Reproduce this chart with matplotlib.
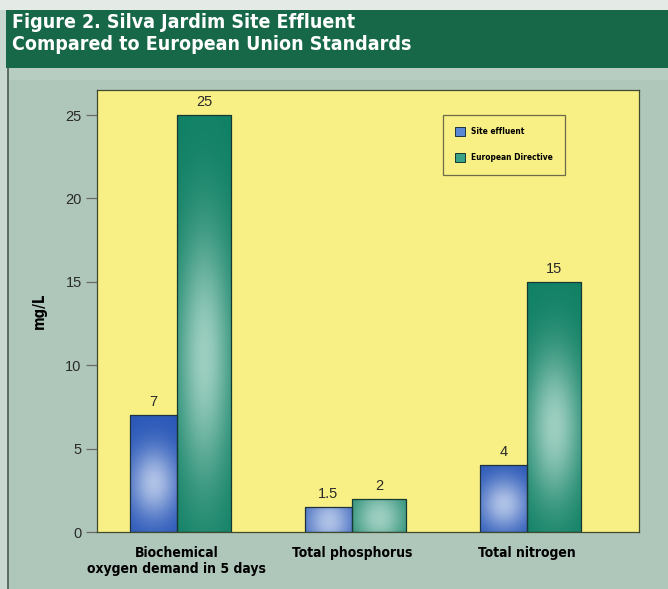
import numpy as np
import matplotlib
matplotlib.use("Agg")
import matplotlib.pyplot as plt
from matplotlib import font_manager
from matplotlib.patches import Patch, Rectangle
from matplotlib.colors import to_rgb

# ---- data ----
categories = ["Biochemical\noxygen demand in 5 days", "Total phosphorus", "Total nitrogen"]
site_effluent = [7, 1.5, 4]
eu_directive = [25, 2, 15]
series_names = ["Site effluent", "European Directive"]
value_labels_site = ["7", "1.5", "4"]
value_labels_eu = ["25", "2", "15"]
yticks = [0, 5, 10, 15, 20, 25]

title = "Figure 2. Silva Jardim Site Effluent\nCompared to European Union Standards"
ylabel = "mg/L"


def condensed_props(size, weight="bold"):
    """Pick a narrow sans face if one is installed, else plain DejaVu Sans."""
    names = {(f.name, f.stretch) for f in font_manager.fontManager.ttflist}
    if any(n == "Liberation Sans Narrow" for n, _ in names):
        return dict(family="Liberation Sans Narrow", fontsize=size, fontweight=weight)
    if ("DejaVu Sans", "condensed") in names:
        return dict(family="DejaVu Sans", fontstretch="condensed", fontsize=size, fontweight=weight)
    return dict(family="DejaVu Sans", fontsize=size * 0.9, fontweight=weight)


W, H = 668, 589
fig = plt.figure(figsize=(W / 100, H / 100), dpi=100)
fig.patch.set_facecolor("#afc6bb")

# page furniture: light margin, dark title band, left rule
fig.add_artist(Rectangle((0, 0), 8 / W, 1, transform=fig.transFigure,
                         facecolor="#c9d8d0", edgecolor="none", zorder=0))
fig.add_artist(Rectangle((0, 1 - 10 / H), 1, 10 / H, transform=fig.transFigure,
                         facecolor="#e4ebe7", edgecolor="none", zorder=0))
fig.add_artist(Rectangle((6 / W, 1 - 68 / H), 1, 58 / H, transform=fig.transFigure,
                         facecolor="#176848", edgecolor="none", zorder=1))
fig.add_artist(Rectangle((8 / W, 1 - 80 / H), 1, 12 / H, transform=fig.transFigure,
                         facecolor="#b8cdc2", edgecolor="none", zorder=0))
fig.add_artist(plt.Line2D([8 / W, 8 / W], [0, 1 - 68 / H], transform=fig.transFigure,
                          color="#4a5a52", lw=1.2, zorder=1))

fig.text(12 / W, 1 - 13 / H, title, color="white", va="top", ha="left",
         linespacing=1.18, zorder=2, **condensed_props(14))

ax = fig.add_axes([97 / W, 57 / H, 542 / W, 442 / H])
ax.set_facecolor("#f8ef85")
x = np.arange(len(categories))
w_site, w_eu = 0.27, 0.31
ax.set_xlim(-0.457, 2.64)
ax.set_ylim(0, 26.5)

bars_site = ax.bar(x - w_site / 2, site_effluent, w_site, facecolor="none",
                   edgecolor="#1d3340", linewidth=0.9, zorder=3)
bars_eu = ax.bar(x + w_eu / 2, eu_directive, w_eu, facecolor="none",
                 edgecolor="#163a33", linewidth=0.9, zorder=3)

fig.canvas.draw()


def shade_bar(patch, dark, light):
    """Fill a bar with a soft radial highlight, clipped to the bar outline."""
    bx, by = patch.get_x(), patch.get_y()
    bw, bh = patch.get_width(), patch.get_height()
    p0 = ax.transData.transform((bx, by))
    p1 = ax.transData.transform((bx + bw, by + bh))
    wpx, hpx = abs(p1[0] - p0[0]), abs(p1[1] - p0[1])
    nx, ny = max(int(wpx), 2), max(int(hpx), 2)
    u = (np.arange(nx) + 0.5) / nx - 0.5
    v = (np.arange(ny) + 0.5) / ny - 0.42
    U, V = np.meshgrid(u * wpx, v * hpx)
    sx = 0.5 * wpx
    sy = max(0.3 * hpx, 0.55 * wpx)
    f = np.exp(-(U / sx) ** 2 - (V / sy) ** 2) * 0.72
    d, l = np.array(to_rgb(dark)), np.array(to_rgb(light))
    img = d[None, None, :] * (1 - f[..., None]) + l[None, None, :] * f[..., None]
    im = ax.imshow(img, extent=(bx, bx + bw, by, by + bh), origin="lower",
                   aspect="auto", interpolation="bilinear", zorder=2)
    im.set_clip_path(patch)


for p in bars_site:
    shade_bar(p, "#2a58b8", "#e2eaf8")
for p in bars_eu:
    shade_bar(p, "#0f8064", "#d4ede4")
ax.set_xlim(-0.457, 2.64)
ax.set_ylim(0, 26.5)

num_font = dict(family="Liberation Sans", fontsize=10.5, color="#2a2a2a")
for p, lab in zip(bars_site, value_labels_site):
    ax.text(p.get_x() + p.get_width() / 2, p.get_height() + 0.35, lab,
            ha="center", va="bottom", **num_font)
for p, lab in zip(bars_eu, value_labels_eu):
    ax.text(p.get_x() + p.get_width() / 2, p.get_height() + 0.35, lab,
            ha="center", va="bottom", **num_font)

ax.set_yticks(yticks)
ax.set_yticklabels([str(t) for t in yticks], **num_font)
ax.tick_params(axis="y", direction="out", length=8, width=0.9, color="#6a6a6a", pad=3)
ax.set_xticks(x)
ax.set_xticklabels(categories, color="black", linespacing=1.15, **condensed_props(10))
ax.tick_params(axis="x", length=0, pad=10)

for s in ax.spines.values():
    s.set_color("#3f4a2e")
    s.set_linewidth(0.9)

ax.set_ylabel(ylabel, color="black", labelpad=13, **condensed_props(10.5))

legend_font = condensed_props(6.0)
handles = [Patch(facecolor="#5a86d6", edgecolor="#1d3340", linewidth=0.7),
           Patch(facecolor="#3aa387", edgecolor="#163a33", linewidth=0.7)]
leg = ax.legend(handles, series_names, loc="upper left",
                bbox_to_anchor=(0.638, 0.944), frameon=True, fancybox=False,
                handlelength=1.2, handleheight=1.2, handletextpad=0.7,
                labelspacing=2.0, borderpad=1.5, borderaxespad=0,
                prop=font_manager.FontProperties(
                    family=legend_font["family"], size=legend_font["fontsize"],
                    weight="bold", stretch=legend_font.get("fontstretch", "normal")))
leg.get_frame().set_facecolor("#f8ef85")
leg.get_frame().set_edgecolor("#4a4a3a")
leg.get_frame().set_linewidth(0.9)

fig.savefig("out.png", dpi=100, facecolor=fig.get_facecolor())
